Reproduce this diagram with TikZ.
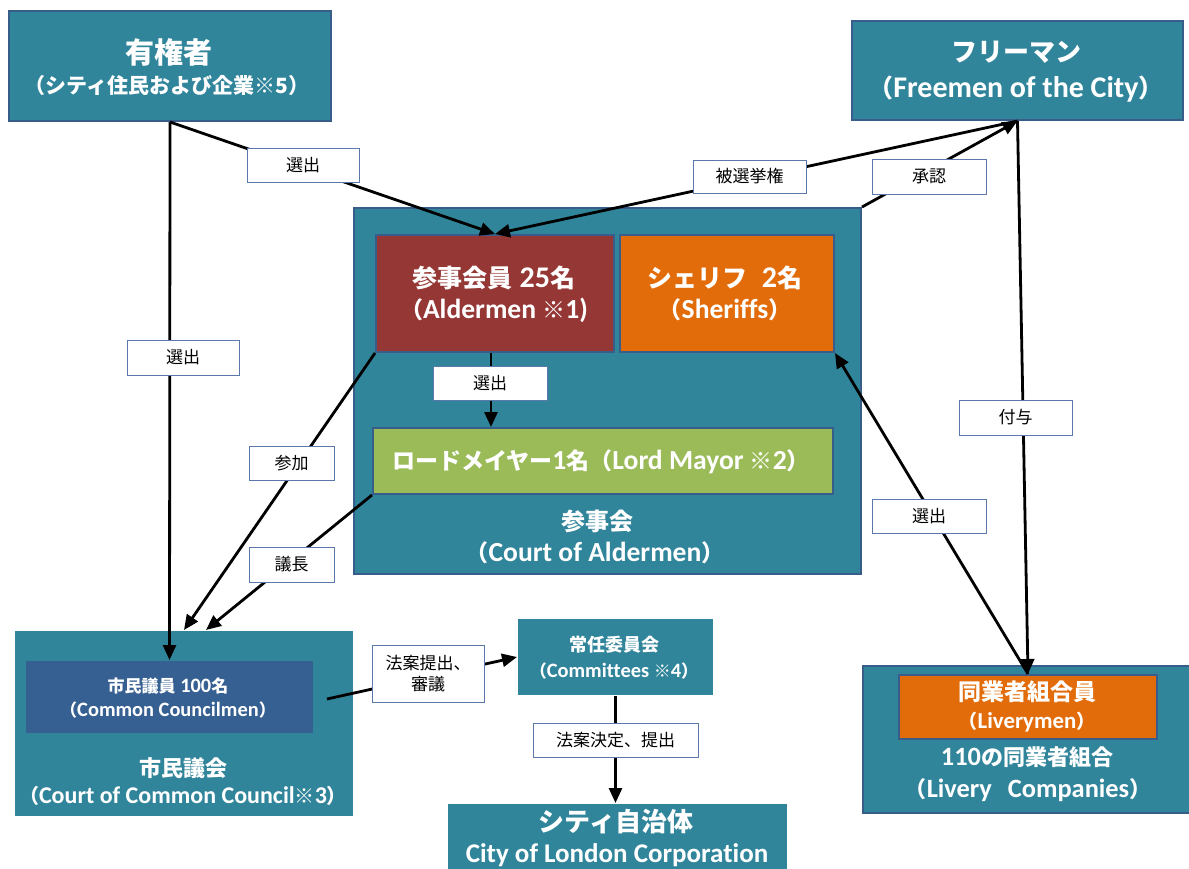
\documentclass[tikz,border=0pt]{standalone}
\usepackage{fontspec}
\setmainfont{Carlito}[Scale=1.2,Ligatures=NoCommon]
\newfontfamily\J{Noto Sans CJK JP}
\usetikzlibrary{arrows.meta,calc}
\definecolor{teal1}{RGB}{49,133,155}
\definecolor{bord}{RGB}{56,93,138}
\definecolor{redb}{RGB}{149,55,53}
\definecolor{orab}{RGB}{227,108,10}
\definecolor{grnb}{RGB}{155,187,89}
\definecolor{blub}{RGB}{55,96,146}
\definecolor{lbord}{RGB}{90,120,170}
\newcommand\jp[1]{{\J #1}}
\newcommand\fs[1]{\fontsize{#1}{#1}\selectfont}
\begin{document}
\begin{tikzpicture}[x=1pt,y=-1pt,
  box/.style={draw=bord,line width=2pt,fill=teal1,anchor=north west,inner sep=0pt},
  tx/.style={text=white,inner sep=0pt,font=\bfseries},
  lab/.style={draw=lbord,line width=1pt,fill=white,inner sep=0pt,text=black,align=center,font=\J\fontsize{17}{21}\selectfont},
  arr/.style={line width=2.8pt,-{Triangle[length=15pt,width=13pt]}}
]
\useasboundingbox[fill=white] (0,0) rectangle (1189,868);
% boxes
\node[box,minimum width=322,minimum height=110] (voters) at (8,10) {};
\node[box,minimum width=331,minimum height=99] (free) at (851,20) {};
\node[box,minimum width=507,minimum height=366] (court) at (353,207) {};
\node[box,fill=redb,minimum width=238,minimum height=117] (ald) at (375,234) {};
\node[box,fill=orab,minimum width=214,minimum height=117] (sher) at (619,234) {};
\node[box,fill=grnb,minimum width=460,minimum height=66] (mayor) at (372,427) {};
\node[box,draw=none,minimum width=338,minimum height=185] (council) at (14,630) {};
\node[box,draw=none,fill=blub,minimum width=287,minimum height=72] (cm) at (25,660) {};
\node[box,draw=none,minimum width=195,minimum height=76] (comm) at (517,618) {};
\node[box,draw=none,minimum width=339,minimum height=80] (city) at (447,803) {};
\node[box,minimum width=340,minimum height=147] (livery) at (862,665) {};
\node[box,fill=orab,minimum width=258,minimum height=64] (lvm) at (898,674) {};
% texts
\node[tx,font=\bfseries\fs{29}] (vt1) at (169,52) {\jp{有権者}};
\node[tx,font=\bfseries\fs{21}] (vt2) at (167,86) {\jp{（シティ住民および企業※5）}};
\node[tx,font=\bfseries\fs{26}] (ft1) at (1016,52) {\jp{フリーマン}};
\node[tx,font=\bfseries\fs{25}] (ft2) at (1016,89) {\jp{（}Freemen of the City\jp{）}};
\node[tx,font=\bfseries\fs{25}] (at1) at (494,278) {\jp{参事会員} 25\jp{名}};
\node[tx,font=\bfseries\fs{23}] (at2) at (494,310) {\jp{（}Aldermen \jp{※}1)};
\node[tx,font=\bfseries\fs{25}] (st1) at (725,278) {\jp{シェリフ}\hspace{14pt}2\jp{名}};
\node[tx,font=\bfseries\fs{23}] (st2) at (725,310) {\jp{（}Sheriffs\jp{）}};
\node[tx,font=\bfseries\fs{23}] (mt) at (601,462) {\jp{ロードメイヤー}1\jp{名（}Lord Mayor \jp{※}2\jp{）}};
\node[tx,font=\bfseries\fs{24}] (ct1) at (597,521) {\jp{参事会}};
\node[tx,font=\bfseries\fs{23}] (ct2) at (595,553) {\jp{（}Court of Aldermen\jp{）}};
\node[tx,font=\bfseries\fs{17}] (cmt1) at (168,686) {\jp{市民議員} 100\jp{名}};
\node[tx,font=\bfseries\fs{17}] (cmt2) at (168,710) {\jp{（}Common Councilmen\jp{）}};
\node[tx,font=\bfseries\fs{22}] (cct1) at (183,768) {\jp{市民議会}};
\node[tx,font=\bfseries\fs{20}] (cct2) at (183,796) {\jp{（}Court of Common Council\jp{※}3\jp{）}};
\node[tx,font=\bfseries\fs{18}] (cot1) at (614,645) {\jp{常任委員会}};
\node[tx,font=\bfseries\fs{17}] (cot2) at (614,671) {\jp{（}Committees \jp{※}4\jp{）}};
\node[tx,font=\bfseries\fs{26}] (cit1) at (616,822) {\jp{シティ自治体}};
\node[tx,font=\bfseries\fs{22.5}] (cit2) at (617,855) {City of London Corporation};
\node[tx,font=\bfseries\fs{23}] (lt1) at (1027,692) {\jp{同業者組合員}};
\node[tx,font=\bfseries\fs{19}] (lt2) at (1027,722) {\jp{（}Liverymen\jp{）}};
\node[tx,font=\bfseries\fs{22}] (lct1) at (1027,757) {110\jp{の同業者組合}};
\node[tx,font=\bfseries\fs{22}] (lct2) at (1028,790) {\jp{（}Livery\hspace{16pt}Companies\jp{）}};
% connectors
\coordinate (a1) at ($(ald.south)+(-4,0)$);
\coordinate (cc2) at ($(council.north)+(22,0)$);
\coordinate (cme) at ($(cm.east)+(13,2)$);
\draw[arr] (voters.south) -- (ald.north);
\draw[arr] (voters.south) -- (cm.north);
\draw[arr] (free.south) -- (ald.north);
\draw[arr] (court.north east) -- (free.south);
\draw[arr] (free.south) -- (lvm.north);
\draw[arr] (lvm.north) -- (sher.south east);
\draw[arr] (a1) -- (a1 |- mayor.north);
\draw[arr] (ald.south west) -- (council.north);
\draw[arr] (mayor.south west) -- (cc2);
\draw[arr] (cme) -- (comm.west);
\draw[arr] (comm.south) -- (comm.south |- city.north);
% labels
\node[lab,minimum width=112,minimum height=34] (l1) at (303,165) {選出};
\node[lab,minimum width=113,minimum height=33] (l2) at (749.5,176.5) {被選挙権};
\node[lab,minimum width=114,minimum height=35] (l3) at (929,176.5) {承認};
\node[lab,minimum width=112,minimum height=35] (l4) at (183,357.5) {選出};
\node[lab,minimum width=114,minimum height=34] (l5) at (490,383) {選出};
\node[lab,minimum width=85,minimum height=34] (l6) at (291.5,463) {参加};
\node[lab,minimum width=85,minimum height=35] (l7) at (291.5,564.5) {議長};
\node[lab,minimum width=113,minimum height=35] (l8) at (1015.5,417.5) {付与};
\node[lab,minimum width=114,minimum height=34] (l9) at (929,516) {選出};
\node[lab,minimum width=112,minimum height=57] (l10) at (428,673.5) {法案提出、\\審議};
\node[lab,minimum width=165,minimum height=34] (l11) at (615.5,740) {法案決定、提出};
\end{tikzpicture}
\end{document}
